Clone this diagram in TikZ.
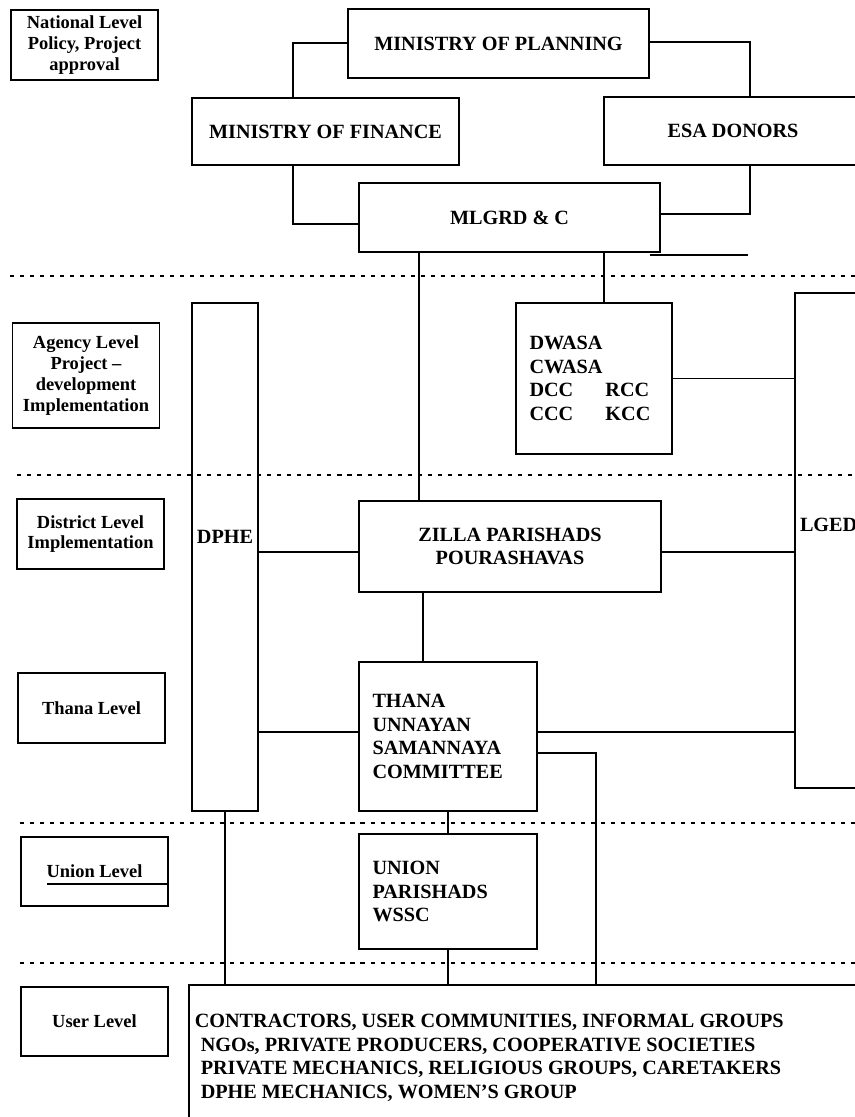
\documentclass[tikz,border=0pt]{standalone}
\usepackage{fontspec}
\setmainfont{Liberation Serif}

\begin{document}
\begin{tikzpicture}[x=0.02cm,y=-0.02cm,
    box/.style={draw,line width=0.9pt,inner sep=0pt,align=center,
      font={\bfseries\fontsize{11.5}{13.4}\selectfont}},
    stack/.style={box,align=left,text width=#1,inner xsep=0.27cm},
    lvl/.style={draw,line width=0.9pt,inner sep=0pt,align=center,
      minimum width=2.94cm,minimum height=1.4cm,
      font={\bfseries\fontsize{10.5}{11.8}\selectfont}},
    link/.style={draw,line width=0.9pt},
    sep/.style={draw,line width=0.9pt,dash pattern=on 2.3pt off 3.4pt}]

    \useasboundingbox (0,0) rectangle (855,1117);
    \clip (0,0) rectangle (855,1117);

    \foreach \y/\x in {276/10,475/17,823/20,963/20}
      \path[sep] (\x,\y) -- (855,\y);

    \node[lvl] (natl) at (84.5,45) {National Level\\Policy, Project\\approval};
    \node[lvl,minimum height=2.1cm] (agcy) at (86,375.5) {Agency Level\\Project --\\development\\Implementation};
    \node[lvl] (dist) at (90.5,534) {District Level\\Implementation};
    \node[lvl] (thl) at (91.5,708) {Thana Level};
    \node[lvl,minimum height=1.38cm] (unl) at (94.5,871.5) {Union Level};
    \node[lvl,minimum height=1.38cm] (usl) at (94.5,1021.5) {User Level};
    \coordinate (ul) at (47,884);
    \path[link] (ul) -- (ul -| unl.east);

    \node[box,minimum width=6.02cm,minimum height=1.38cm] (plan) at (498.5,43.5) {MINISTRY OF PLANNING};
    \node[box,minimum width=5.34cm,minimum height=1.34cm] (fin) at (325.5,131.5) {MINISTRY OF FINANCE};
    \node[box,minimum width=5.16cm,minimum height=1.36cm] (esa) at (733,131) {ESA DONORS};
    \node[box,minimum width=6.02cm,minimum height=1.38cm] (mlg) at (509.5,217.5) {MLGRD \& C};

    \node[box,minimum width=1.32cm,minimum height=10.16cm] (dphe) at (225,557) {};
    \node[box,draw=none] (dphename) at ([yshift=0.4cm]dphe.center) {DPHE};
    \node[box,minimum width=2.1cm,minimum height=9.9cm] (lged) at (847.5,540.5) {};
    \node[box,draw=none,anchor=west,inner xsep=0.1cm] (lgedname) at ([yshift=0.31cm]lged.west) {LGED};

    \node[stack=2.58cm,minimum height=3.02cm] (dwa) at (594,378.5)
      {DWASA\\CWASA\\\makebox[1.52cm][l]{DCC}RCC\\\makebox[1.52cm][l]{CCC}KCC};
    \node[box,minimum width=6.04cm,minimum height=1.82cm] (zil) at (510,546.5) {ZILLA PARISHADS\\POURASHAVAS};
    \node[stack=3.02cm,minimum height=2.98cm] (tha) at (448,736.5) {THANA\\UNNAYAN\\SAMANNAYA\\COMMITTEE};
    \node[stack=3.02cm,minimum height=2.3cm] (uni) at (448,891.5) {UNION\\PARISHADS\\WSSC};

    \node[box,anchor=north west,minimum width=14.24cm,minimum height=3.12cm] (usr) at (188,984) {};
    \node[box,draw=none,align=left,anchor=west] (usrtxt) at (194,1058)
      {CONTRACTORS, USER COMMUNITIES, INFORMAL GROUPS\\
       \hspace{0.12cm}NGOs, PRIVATE PRODUCERS, COOPERATIVE SOCIETIES\\
       \hspace{0.12cm}PRIVATE MECHANICS, RELIGIOUS GROUPS, CARETAKERS\\
       \hspace{0.12cm}DPHE MECHANICS, WOMEN'S GROUP};

    \coordinate (jpl) at (293,43);
    \coordinate (jpr) at (750,42);
    \coordinate (jfm) at (293,224);
    \coordinate (jem) at (750,214);
    \coordinate (jmz) at (419,0);
    \coordinate (jmd) at (604,0);
    \coordinate (jzt) at (423,0);
    \coordinate (rz) at (0,552);
    \coordinate (rt) at (0,732);
    \coordinate (jtu) at (596,753);

    \path[link] (jpl -| plan.west) -- (jpl) -- (jpl |- fin.north);
    \path[link] (jpr -| plan.east) -- (jpr) -- (jpr |- esa.north);
    \path[link] (jfm |- fin.south) -- (jfm) -- (jfm -| mlg.west);
    \path[link] (jem |- esa.south) -- (jem) -- (jem -| mlg.east);
    \path[link] (650,255) -- (748,255);
    \path[link] (jmz |- mlg.south) -- (jmz |- zil.north);
    \path[link] (jmd |- mlg.south) -- (jmd |- dwa.north);
    \path[link] (dwa.east) -- (dwa.east -| lged.west);
    \path[link] (rz -| dphe.east) -- (rz -| zil.west);
    \path[link] (rz -| zil.east) -- (rz -| lged.west);
    \path[link] (jzt |- zil.south) -- (jzt |- tha.north);
    \path[link] (rt -| dphe.east) -- (rt -| tha.west);
    \path[link] (rt -| tha.east) -- (rt -| lged.west);
    \path[link] (jtu -| tha.east) -- (jtu) -- (jtu |- usr.north);
    \path[link] (tha.south) -- (uni.north);
    \path[link] (uni.south) -- (uni.south |- usr.north);
    \path[link] (dphe.south) -- (dphe.south |- usr.north);

  \end{tikzpicture}
\end{document}
